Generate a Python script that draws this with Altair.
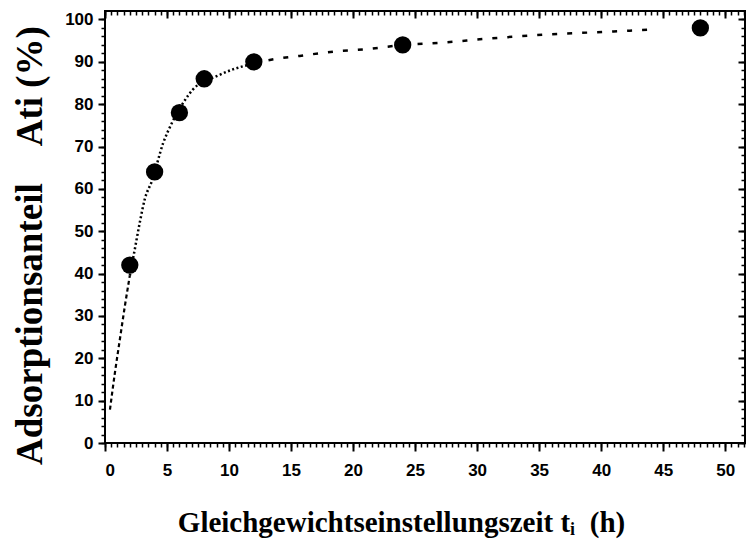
import altair as alt
import pandas as pd

# measured points
t_pts = [2, 4, 6, 8, 12, 24, 48]
a_pts = [42, 64, 78, 86, 90, 94, 98]

# fitted curve, split in three line-style segments
curve_t = [0.4, 0.8, 1.2, 1.6, 2.0,
           2.0, 2.4, 2.8, 3.2, 3.8, 4.7, 5.4, 6.3, 7.1, 9.0, 10.3, 12.0,
           12.0, 13.6, 15.7, 18.4, 21.1, 23.8, 27.0, 31.0, 35.9, 39.7, 44.0]
curve_a = [7.9, 16.6, 24.5, 32.3, 39.5,
           39.5, 45.7, 52.0, 57.5, 62.0, 70.9, 75.6, 80.3, 83.5, 86.6, 88.2, 89.6,
           89.6, 90.6, 91.4, 92.4, 93.0, 93.9, 94.5, 95.5, 96.5, 97.0, 97.6]
curve_seg = ["a"] * 5 + ["b"] * 12 + ["c"] * 11

x_major = [0, 5, 10, 15, 20, 25, 30, 35, 40, 45, 50]
x_minor = [i * 0.5 for i in range(0, 104)]
y_major = [0, 10, 20, 30, 40, 50, 60, 70, 80, 90, 100]
y_minor = list(range(0, 102, 2))

pts = pd.DataFrame({"t": t_pts, "a": a_pts})
curve = pd.DataFrame({"t": curve_t, "a": curve_a, "seg": curve_seg})

XDOM = [0, 51.6]
YDOM = [0, 102]
xs = alt.Scale(domain=XDOM, nice=False, zero=False)
ys = alt.Scale(domain=YDOM, nice=False, zero=False)

LABEL = dict(labelFont="Liberation Sans", labelFontWeight="bold", labelFontSize=17,
             labelColor="black")
NOLAB = dict(labels=False, domain=False, grid=False, tickColor="black")

x_main = alt.Axis(orient="bottom", values=x_major, tickSize=8, tickWidth=2,
                  tickColor="black", domain=False, grid=False, labelPadding=11,
                  format="d",
                  title="Gleichgewichtseinstellungszeit tᵢ\u00a0 (h)",
                  titleFont="Liberation Serif", titleFontWeight="bold",
                  titleFontSize=29, titleColor="black",
                  titleX=296, titleY=88, titleBaseline="alphabetic",
                  titleAlign="center", **LABEL)
y_main = alt.Axis(orient="left", values=y_major, tickSize=7, tickWidth=2,
                  tickColor="black", domain=False, grid=False, labelPadding=5,
                  format="d",
                  title="Adsorptionsanteil\u00a0\u00a0\u00a0\u00a0Ati (%)",
                  titleFont="Liberation Serif", titleFontWeight="bold",
                  titleFontSize=37, titleColor="black",
                  titleAngle=270, titleX=-75, titleY=234,
                  titleAlign="center", titleBaseline="middle", **LABEL)

points = alt.Chart(pts).mark_circle(size=300, color="black", opacity=1).encode(
    x=alt.X("t:Q", scale=xs, axis=x_main),
    y=alt.Y("a:Q", scale=ys, axis=y_main),
)

seg_a = alt.Chart(curve).transform_filter(alt.datum.seg == "a").mark_line(
    color="black", strokeWidth=2.2, strokeDash=[4, 3], interpolate="monotone"
).encode(
    x=alt.X("t:Q", scale=xs, title="",
            axis=alt.Axis(orient="bottom", values=x_minor, tickSize=4, tickWidth=1.5, **NOLAB)),
    y=alt.Y("a:Q", scale=ys, title="",
            axis=alt.Axis(orient="left", values=y_minor, tickSize=4, tickWidth=1.5, **NOLAB)),
)

seg_b = alt.Chart(curve).transform_filter(alt.datum.seg == "b").mark_line(
    color="black", strokeWidth=2.5, strokeDash=[2, 2.5], interpolate="monotone"
).encode(
    x=alt.X("t:Q", scale=xs, title="",
            axis=alt.Axis(orient="top", values=x_major, tickSize=7, tickWidth=2,
                          offset=-7, **NOLAB)),
    y=alt.Y("a:Q", scale=ys, title="",
            axis=alt.Axis(orient="right", values=y_major, tickSize=7, tickWidth=2,
                          offset=-7, **NOLAB)),
)

seg_c = alt.Chart(curve).transform_filter(alt.datum.seg == "c").mark_line(
    color="black", strokeWidth=2.5, strokeDash=[5, 10], interpolate="monotone"
).encode(
    x=alt.X("t:Q", scale=xs, title="",
            axis=alt.Axis(orient="top", values=x_minor, tickSize=4, tickWidth=1.5,
                          offset=-4, **NOLAB)),
    y=alt.Y("a:Q", scale=ys, title="",
            axis=alt.Axis(orient="right", values=y_minor, tickSize=4, tickWidth=1.5,
                          offset=-4, **NOLAB)),
)

chart = alt.layer(seg_a, seg_b, seg_c, points).resolve_axis(
    x="independent", y="independent"
).properties(
    width=640, height=432,
    autosize=alt.AutoSizeParams(type="none"),
    padding={"left": 105, "top": 11, "right": 4, "bottom": 99},
    background="white",
).configure_view(stroke="black", strokeWidth=2)

chart.save("out.html", embed_options={"renderer": "svg", "actions": False})
